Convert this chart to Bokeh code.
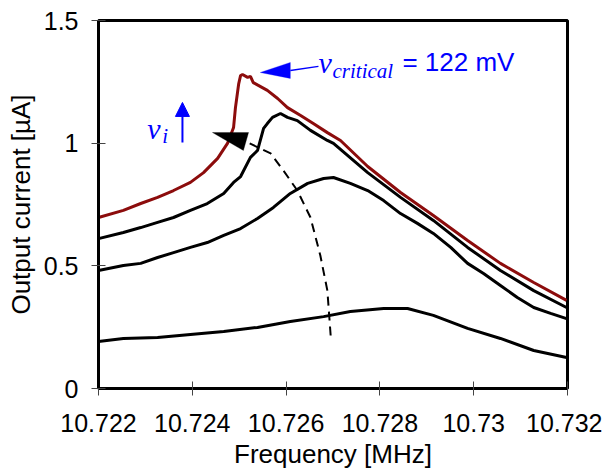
from bokeh.plotting import figure
from bokeh.embed import file_html
from bokeh.resources import INLINE
from bokeh.models import Label, Arrow, NormalHead, PolyAnnotation, FixedTicker, Range1d

# ---------------- data ----------------
red_f = [10.7220, 10.72253, 10.72290, 10.72326, 10.72360, 10.72396, 10.72424, 10.72454,
         10.72475, 10.72488, 10.72492, 10.72499, 10.72503, 10.72507, 10.72518, 10.72524,
         10.72530, 10.72560, 10.72582, 10.72603, 10.72631, 10.72658, 10.72688, 10.72716,
         10.72774, 10.72844, 10.72914, 10.72987, 10.73057, 10.73128, 10.73198]
red_i = [0.697, 0.726, 0.754, 0.779, 0.807, 0.840, 0.880, 0.938,
         0.999, 1.064, 1.145, 1.243, 1.276, 1.280, 1.268, 1.272,
         1.247, 1.215, 1.182, 1.145, 1.113, 1.080, 1.043, 1.011,
         0.905, 0.799, 0.705, 0.603, 0.510, 0.432, 0.359]

b1_f = [10.7220, 10.72253, 10.72290, 10.72326, 10.72360, 10.72396, 10.72432, 10.72467,
        10.72488, 10.72503, 10.72524, 10.72539, 10.72552, 10.72560, 10.72571, 10.72588,
        10.72603, 10.72624, 10.72652, 10.72688, 10.72701, 10.72774, 10.72844, 10.72914,
        10.72987, 10.73057, 10.73128, 10.73198]
b1_i = [0.611, 0.636, 0.656, 0.677, 0.697, 0.726, 0.754, 0.795,
        0.840, 0.864, 0.942, 0.970, 1.060, 1.080, 1.105, 1.121,
        1.105, 1.092, 1.052, 1.011, 0.999, 0.880, 0.779, 0.685,
        0.575, 0.481, 0.399, 0.330]

b2_f = [10.7220, 10.72253, 10.72290, 10.72326, 10.72360, 10.72396, 10.72432, 10.72467,
        10.72503, 10.72539, 10.72573, 10.72609, 10.72646, 10.72680, 10.72701, 10.72737,
        10.72774, 10.72808, 10.72844, 10.72880, 10.72914, 10.72951, 10.72987, 10.73021,
        10.73057, 10.73093, 10.73128, 10.73164, 10.73198]
b2_i = [0.481, 0.501, 0.510, 0.534, 0.554, 0.575, 0.595, 0.624,
        0.652, 0.693, 0.738, 0.795, 0.836, 0.856, 0.860, 0.836,
        0.807, 0.766, 0.713, 0.673, 0.632, 0.575, 0.510, 0.469,
        0.420, 0.371, 0.330, 0.306, 0.285]

b3_f = [10.7220, 10.72253, 10.72326, 10.72396, 10.72467, 10.72539, 10.72609, 10.72680,
        10.72737, 10.72808, 10.72859, 10.72914, 10.72987, 10.73057, 10.73128, 10.73198]
b3_i = [0.192, 0.204, 0.208, 0.220, 0.232, 0.249, 0.273, 0.293,
        0.314, 0.326, 0.326, 0.298, 0.245, 0.204, 0.155, 0.126]

# backbone (dashed) curve
bb_f = [10.72695, 10.72688, 10.72673, 10.72652, 10.72624, 10.72594, 10.72567, 10.72518]
bb_i = [0.216, 0.399, 0.542, 0.697, 0.807, 0.889, 0.958, 1.003]

x_ticks = [10.722, 10.724, 10.726, 10.728, 10.730, 10.732]
x_tick_labels = ["10.722", "10.724", "10.726", "10.728", "10.73", "10.732"]
y_ticks = [0, 0.5, 1, 1.5]
y_tick_labels = ["0", "0.5", "1", "1.5"]
x_title = "Frequency [MHz]"
y_title = "Output current [\u00b5A]"

# ---------------- figure ----------------
p = figure(frame_width=469, frame_height=368, output_backend="svg", toolbar_location=None,
           x_range=Range1d(10.722, 10.732), y_range=Range1d(0, 1.5),
           min_border_left=98, min_border_right=35, min_border_top=20, min_border_bottom=5)
p.grid.visible = False
p.outline_line_color = "black"
p.outline_line_width = 3
p.background_fill_color = "white"
p.border_fill_color = "white"

SANS = "Liberation Sans"
SERIF = "Liberation Serif"

for ax in (p.xaxis[0], p.yaxis[0]):
    ax.axis_line_width = 3
    ax.axis_line_color = "black"
    ax.major_tick_in = 7
    ax.major_tick_out = 7
    ax.major_tick_line_color = "#444444"
    ax.major_tick_line_width = 1
    ax.minor_tick_line_color = None
    ax.major_label_text_font = SANS
    ax.major_label_text_font_size = "25px"
    ax.major_label_text_color = "black"
    ax.major_label_text_line_height = 1.0
    ax.axis_label_text_font = SANS
    ax.axis_label_text_font_size = "26px"
    ax.axis_label_text_font_style = "normal"
    ax.axis_label_text_color = "black"
    ax.axis_label_text_line_height = 1.0

p.xaxis.ticker = FixedTicker(ticks=x_ticks)
p.xaxis.major_label_overrides = dict(zip(x_ticks, x_tick_labels))
p.yaxis.ticker = FixedTicker(ticks=y_ticks)
p.yaxis.major_label_overrides = dict(zip(y_ticks, y_tick_labels))
p.xaxis.axis_label = x_title
p.yaxis.axis_label = y_title
p.xaxis.major_label_standoff = 18
p.yaxis.major_label_standoff = 13
p.xaxis.axis_label_standoff = 4
p.yaxis.axis_label_standoff = 5

# curves
p.line(b3_f, b3_i, line_color="black", line_width=3)
p.line(b2_f, b2_i, line_color="black", line_width=3)
p.line(b1_f, b1_i, line_color="black", line_width=3)
p.line(red_f, red_i, line_color="#8c0c0c", line_width=3)
p.line(bb_f, bb_i, line_color="black", line_width=2, line_dash="9 6")

# black arrowhead at the end of the backbone
p.add_layout(PolyAnnotation(xs=[10.72443, 10.72520, 10.72509], ys=[1.0435, 1.0435, 0.970],
                            fill_color="black", fill_alpha=1, line_color="black", line_width=1))

# v_i arrow (blue, pointing up)
p.add_layout(Arrow(x_start=10.72379, y_start=1.003, x_end=10.72379, y_end=1.166,
                   line_color="blue", line_width=2,
                   end=NormalHead(size=14, fill_color="blue", line_color="blue")))
p.add_layout(Label(x=10.72304, y=1.060, text="v", text_font=SERIF, text_font_style="italic",
                   text_font_size="30px", text_color="blue", text_baseline="alphabetic"))
p.add_layout(Label(x=10.72336, y=1.031, text="i", text_font=SERIF, text_font_style="italic",
                   text_font_size="21px", text_color="blue", text_baseline="alphabetic"))

# v_critical arrow
p.add_layout(PolyAnnotation(xs=[10.72545, 10.72609, 10.72609], ys=[1.288, 1.329, 1.264],
                            fill_color="blue", fill_alpha=1, line_color="blue", line_width=1))
p.add_layout(Arrow(x_start=10.72669, y_start=1.313, x_end=10.72609, y_end=1.296,
                   line_color="blue", line_width=1.5, end=None))
p.add_layout(Label(x=10.72669, y=1.329, text="v", text_font=SERIF, text_font_style="italic",
                   text_font_size="30px", text_color="blue", text_baseline="alphabetic"))
p.add_layout(Label(x=10.72699, y=1.296, text="critical", text_font=SERIF, text_font_style="italic",
                   text_font_size="21px", text_color="blue", text_baseline="alphabetic"))
p.add_layout(Label(x=10.72848, y=1.329, text="= 122 mV", text_font=SANS,
                   text_font_size="26px", text_color="blue", text_baseline="alphabetic"))

open("out.html", "w").write(file_html(p, INLINE))
